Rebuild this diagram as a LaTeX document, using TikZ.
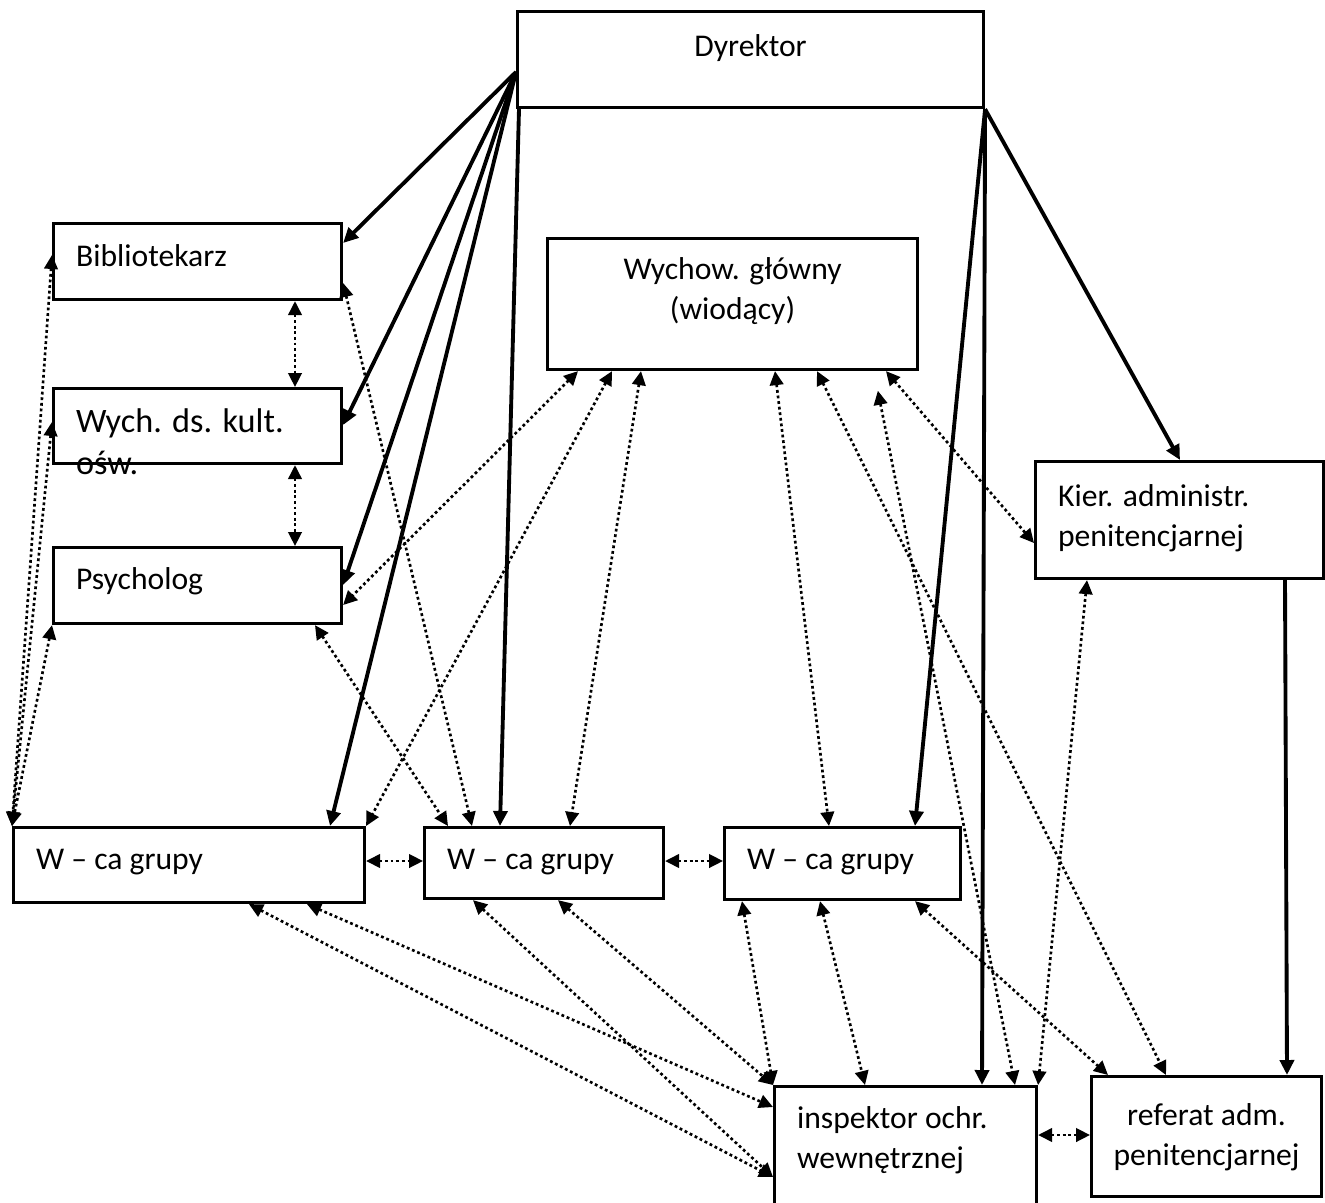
\documentclass[tikz,border=0pt]{standalone}
\usepackage{fontspec}
\setmainfont{Carlito}
\usetikzlibrary{arrows.meta,calc}

\tikzset{
  box/.style={draw, line width=1.8pt, anchor=north west, inner ysep=0pt,
    font=\fontsize{18}{22.7}\selectfont},
  lbox/.style={box, align=flush left, inner xsep=0.45cm},
  cbox/.style={box, align=flush center, inner xsep=0pt},
  cmd/.style={line width=2.2pt, -{Triangle[length=0.3cm,width=0.28cm]}},
  coop/.style={line width=1.5pt, dash pattern=on 1.6pt off 1.6pt,
    {Triangle[length=0.28cm,width=0.27cm]}-{Triangle[length=0.28cm,width=0.27cm]}}
}

\begin{document}
\begin{tikzpicture}[x=0.02cm, y=-0.02cm]
\useasboundingbox (0,0) rectangle (1325,1203);

\node[cbox, text width=9.32cm, text height=0.9cm, text depth=1.02cm] (dyr) at (516,10) {Dyrektor};
\node[lbox, text width=4.86cm, text height=0.86cm, text depth=0.66cm] (bib) at (52,222) {Bibliotekarz};
\node[lbox, text width=4.86cm, text height=0.88cm, text depth=0.62cm,
      font=\fontsize{19.5}{24}\selectfont] (wk) at (52,387) {Wych. ds. kult.\\ośw.};
\node[lbox, text width=4.86cm, text height=0.84cm, text depth=0.68cm] (psy) at (52,546) {Psycholog};
\node[cbox, text width=7.4cm, text height=0.82cm, text depth=1.8cm] (wg) at (546,237) {Wychow. główny\\(wiodący)};
\node[lbox, text width=4.86cm, text height=0.9cm, text depth=1.44cm] (kier) at (1034,460) {Kier. administr.\\penitencjarnej};
\node[lbox, text width=6.12cm, text height=0.84cm, text depth=0.66cm] (w1) at (12,826) {W – ca grupy};
\node[lbox, text width=3.88cm, text height=0.84cm, text depth=0.58cm] (w2) at (423,826) {W – ca grupy};
\node[lbox, text width=3.82cm, text height=0.84cm, text depth=0.6cm] (w3) at (723,826) {W – ca grupy};
\node[lbox, text width=4.34cm, text height=0.84cm, text depth=1.62cm] (insp) at (773,1085) {inspektor ochr.\\wewnętrznej};
\node[cbox, text width=4.6cm, text height=0.98cm, text depth=1.42cm] (ref) at (1090,1075) {referat adm.\\penitencjarnej};

% podleglosc
\draw[cmd] ($(dyr.north west)+(0,62)$) -- ($(bib.north east)+(0,21)$);
\draw[cmd] ($(dyr.north west)+(0,62)$) -- ($(wk.north east)+(0,38)$);
\draw[cmd] ($(dyr.north west)+(0,62)$) -- ($(psy.north east)+(0,39)$);
\draw[cmd] ($(dyr.north west)+(0,62)$) -- ($(w1.north west)+(318,0)$);
\draw[cmd] ($(dyr.south west)+(3,0)$) -- ($(w2.north west)+(77,0)$);
\draw[cmd] (dyr.south east) -- ($(w3.north west)+(192,0)$);
\draw[cmd] (dyr.south east) -- ($(insp.north west)+(209,0)$);
\draw[cmd] (dyr.south east) -- ($(kier.north west)+(146,0)$);
\draw[cmd] ($(kier.south west)+(251,0)$) -- ($(ref.north west)+(197,0)$);

% wspolpraca
\draw[coop] ($(bib.south west)+(243,0)$) -- ($(wk.north west)+(243,0)$);
\draw[coop] ($(wk.south west)+(243,0)$) -- ($(psy.north west)+(243,0)$);
\draw[coop] ($(bib.north west)+(0,33)$) -- (w1.north west);
\draw[coop] ($(wk.north west)+(0,35)$) -- (w1.north west);
\draw[coop] (psy.south west) -- (w1.north west);
\draw[coop] ($(bib.north east)+(0,61)$) -- ($(w2.north west)+(49,0)$);
\draw[coop] ($(psy.south west)+(263,0)$) -- ($(w2.north west)+(25,0)$);
\draw[coop] ($(wg.south west)+(32,0)$) -- ($(psy.north east)+(0,59)$);
\draw[coop] ($(wg.south west)+(66,0)$) -- (w1.north east);
\draw[coop] ($(wg.south west)+(95,0)$) -- ($(w2.north west)+(147,0)$);
\draw[coop] ($(wg.south west)+(229,0)$) -- ($(w3.north west)+(106,0)$);
\draw[coop] ($(wg.south west)+(271,0)$) -- ($(ref.north west)+(76,0)$);
\draw[coop] ($(wg.south west)+(340,0)$) -- ($(kier.north west)+(0,83)$);
\draw[coop, shorten <=0.4cm] ($(wg.south west)+(328,0)$) -- ($(insp.north west)+(242,0)$);
\draw[coop] ($(kier.south west)+(53,0)$) -- (insp.north east);
\draw[coop] ($(w1.north east)+(0,35)$) -- ($(w2.north west)+(0,35)$);
\draw[coop] ($(w2.north east)+(0,35)$) -- ($(w3.north west)+(0,35)$);
\draw[coop] ($(w1.south west)+(237,0)$) -- ($(insp.north west)+(0,92)$);
\draw[coop] ($(w1.south west)+(295,0)$) -- ($(insp.north west)+(0,22)$);
\draw[coop] ($(w2.south west)+(50,0)$) -- ($(insp.north west)+(0,92)$);
\draw[coop] ($(w2.south west)+(135,0)$) -- (insp.north west);
\draw[coop] ($(w3.south west)+(19,0)$) -- (insp.north west);
\draw[coop] ($(w3.south west)+(97,0)$) -- ($(insp.north west)+(92,0)$);
\draw[coop] ($(w3.south west)+(192,0)$) -- ($(ref.north west)+(18,0)$);
\draw[coop] ($(insp.north east)+(0,50)$) -- ($(ref.north west)+(0,60)$);
\end{tikzpicture}
\end{document}
